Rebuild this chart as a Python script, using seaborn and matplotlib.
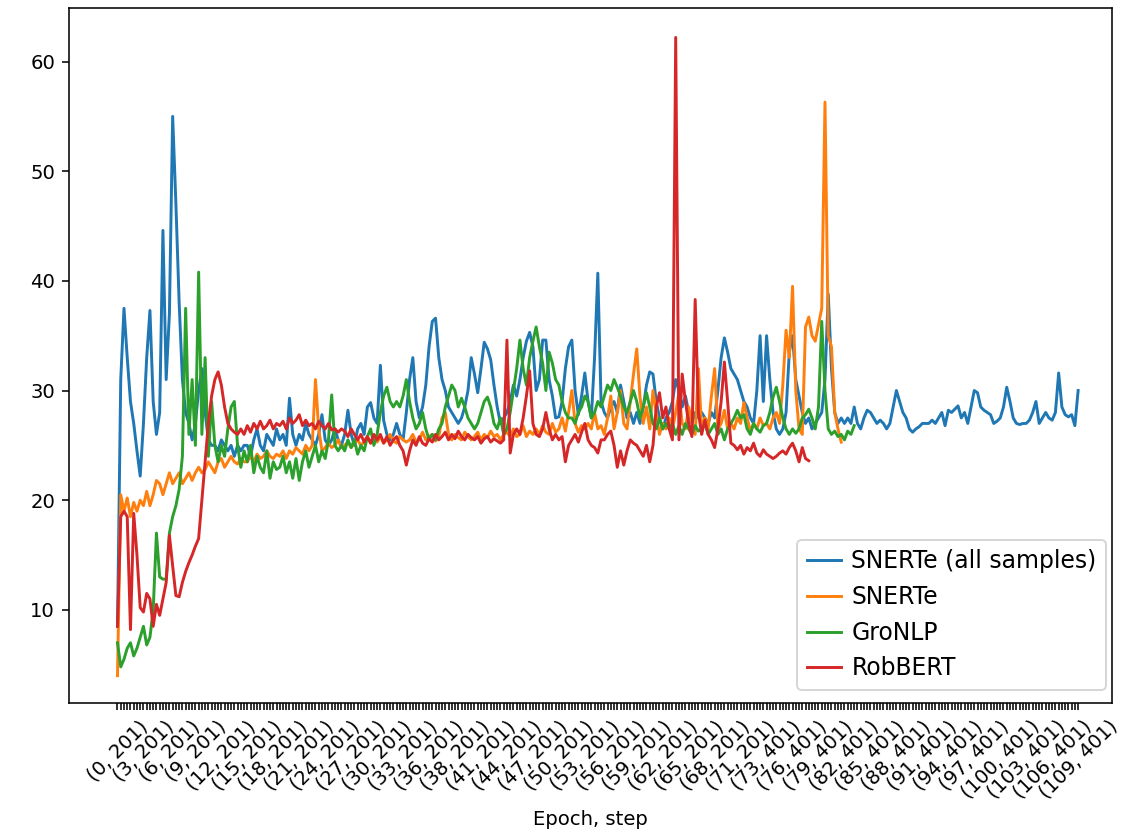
import pandas as pd
import matplotlib
matplotlib.use("Agg")
import matplotlib.pyplot as plt
import seaborn as sns

# every 8th logged (epoch, step) gets a visible label
tick_labels = ["(0, 201)", "(3, 201)", "(6, 201)", "(9, 201)", "(12, 201)", "(15, 201)",
               "(18, 201)", "(21, 201)", "(24, 201)", "(27, 201)", "(30, 201)", "(33, 201)",
               "(36, 201)", "(38, 201)", "(41, 201)", "(44, 201)", "(47, 201)", "(50, 201)",
               "(53, 201)", "(56, 201)", "(59, 201)", "(62, 201)", "(65, 201)", "(68, 201)",
               "(71, 201)", "(73, 401)", "(76, 401)", "(79, 401)", "(82, 401)", "(85, 401)",
               "(88, 401)", "(91, 401)", "(94, 401)", "(97, 401)", "(100, 401)", "(103, 401)",
               "(106, 401)", "(109, 401)"]
label_every = 8

snerte_all = [
    8.5, 31, 37.5, 33, 29, 27, 24.5, 22.2, 27, 33,
    37.3, 29, 26, 28, 44.6, 31, 37, 55, 47, 38,
    31, 28, 27, 25.5, 27, 30, 32, 28, 25.5, 25,
    25, 24.5, 25.5, 25, 24.5, 25, 24, 25, 24.5, 25,
    25, 24, 25.5, 26.5, 25, 24.5, 26, 25.5, 25, 26.5,
    25.5, 26, 25, 29.3, 26, 25, 26, 25.5, 27, 26,
    25.5, 25, 26, 27.8, 25.5, 25, 25.5, 26.5, 25.5, 25,
    26, 28.2, 26, 25, 26.5, 27, 26, 28.5, 28.9, 27.5,
    27, 32.3, 27.3, 26, 25.5, 26, 27, 26, 25.5, 28,
    31, 33, 29, 27.5, 28.5, 30.5, 34, 36.3, 36.6, 33,
    31, 30, 28.5, 28, 27.5, 27, 27.5, 28.5, 30, 33,
    31.5, 29.8, 32, 34.4, 33.8, 32.8, 30.5, 28.5, 27, 27.5,
    28, 29, 30.5, 29.5, 31, 33, 34.5, 35.3, 34, 30,
    31, 34.6, 34.6, 31, 29.5, 27.5, 27.6, 29, 32, 34,
    34.6, 30, 27.8, 29.5, 31.6, 29, 27.5, 33, 40.7, 29,
    28, 27.5, 28.5, 29, 28, 30.5, 29, 27.5, 28, 27,
    28, 27, 28.5, 30.5, 31.7, 31.5, 29, 27.5, 26.5, 27.5,
    28, 29, 31, 30, 28.5, 29.5, 28, 27, 28, 27.5,
    28, 27.5, 27, 28, 27.5, 30, 33, 34.8, 33.5, 32,
    31.5, 31, 30, 29, 28.5, 27.5, 27, 30, 35, 29,
    35, 31, 28, 26.5, 26, 26.5, 28, 33.5, 35, 31,
    29.5, 28, 27, 27.5, 26.5, 27, 27.5, 28, 31, 38.8,
    32, 28, 27, 27.5, 27, 27.5, 27, 28.5, 27, 26.5,
    27.5, 28.2, 28, 27.5, 27, 27.3, 27, 26.5, 27, 28.5,
    30, 29, 28, 27.5, 26.5, 26.2, 26.5, 26.7, 27, 27,
    27, 27.3, 27, 27.5, 28, 26.8, 28.2, 28, 28.3, 28.6,
    27.5, 28, 27, 28.5, 30, 29.8, 28.5, 28.2, 28, 27.8,
    27, 27.2, 27.5, 28.5, 30.3, 29, 27.5, 27, 26.9, 27,
    27, 27.3, 28, 29, 27, 27.5, 28, 27.5, 27.3, 28,
    31.6, 28.5, 27.8, 27.6, 27.8, 26.8, 30,
]

snerte = [
    4, 20.5, 19, 20.2, 18.5, 19.8, 19, 20, 19.5, 20.8,
    19.5, 20.5, 21.8, 21.5, 20.5, 21.5, 22.5, 21.5, 22, 22.5,
    21.5, 22, 22.5, 21.8, 22.5, 23, 22.5, 22.8, 23.5, 23,
    22.5, 23.5, 23.8, 23, 23.5, 24, 23.5, 23.3, 23.8, 23.5,
    23.5, 24, 23.5, 24.2, 23.8, 24, 24.5, 24, 23.8, 24.2,
    24, 24.5, 23.8, 24.5, 24.2, 24.8, 24.5, 24.2, 25, 24.5,
    25, 31, 26.5, 24.5, 24.8, 25.2, 24.8, 25, 25.5, 24.8,
    25, 25.3, 24.8, 25.2, 25.5, 25, 25.3, 25.8, 25.2, 25.5,
    25.3, 25.8, 25.2, 25.5, 26, 25.4, 25.2, 25.8, 25.5, 25.3,
    25.5, 26, 25.3, 25.5, 26.2, 25.5, 25.8, 26, 25.4, 25.8,
    27.5, 28, 26, 25.5, 26, 25.7, 25.5, 26.2, 25.8, 25.5,
    25.8, 26.2, 25.5, 26, 25.7, 26.3, 25.8, 26, 25.5, 26,
    26.2, 25.8, 26.5, 25.8, 26, 26.8, 25.8, 26.3, 26, 26.5,
    26, 26.8, 26.2, 26, 27, 26.2, 26.5, 27.5, 26.3, 28,
    30, 27, 26.2, 26.8, 26.5, 27, 26.5, 28, 26.5, 26.8,
    26, 27.5, 29.5, 26.5, 28, 30, 27, 26.5, 29, 31.5,
    33.8, 29.4, 27, 28.5, 26.5, 30, 28, 26, 27, 26.5,
    27.5, 26.5, 28, 29.8, 27, 26.5, 28.5, 27, 26, 32,
    26.5, 27.5, 26.5, 29.5, 32, 26.5, 27, 28.2, 26.5, 27,
    26.5, 27.5, 27, 28.9, 27.5, 26.3, 27, 26.5, 27.5, 26.8,
    27, 26.5, 27.5, 28, 27, 30.5, 35.5, 33, 39.5, 30,
    26.5, 26, 35.8, 36.7, 35, 34.5, 36, 37.5, 56.3, 35,
    34, 28, 26.5, 25.3,
]

gronlp = [
    7, 4.8, 5.5, 6.5, 7, 5.8, 6.5, 7.5, 8.5, 6.8,
    7.5, 10, 17, 13, 12.8, 12.8, 17, 18.5, 19.5, 21,
    24, 37.5, 26, 31, 25, 40.8, 26, 33, 24, 29,
    25, 23.5, 25, 24, 26.5, 28.5, 29, 25, 23, 24.5,
    23.5, 25, 22.5, 24, 23, 22.5, 24.5, 22, 23.5, 22.8,
    23, 24, 22.5, 23.5, 22, 23.8, 21.8, 23.5, 24.5, 23,
    24, 25, 23.5, 24.5, 23.8, 25.5, 29.6, 25, 24.5, 25,
    24.5, 25.5, 24.8, 25.5, 24.2, 25, 24.5, 25.8, 26.5, 25,
    26, 28, 29.5, 30.3, 29, 28.5, 29, 28.5, 29.5, 31,
    29, 27.5, 26.5, 27, 28, 26.5, 25.5, 26, 25.5, 26.5,
    27, 28.5, 29.5, 30.5, 30, 28.5, 29.3, 28.5, 27.5, 27,
    26.5, 27, 28, 29, 29.4, 28.5, 27, 26.5, 27.5, 26,
    26.5, 28, 30, 32, 34.6, 32, 30.5, 33, 34.5, 35.8,
    34, 32.5, 30, 33.5, 32.5, 31, 30.5, 29, 28, 27.5,
    27.5, 27, 28, 28.5, 29.5, 29, 27.5, 28, 29, 28.5,
    29.5, 30.5, 30, 31, 30.3, 29.5, 28.5, 28, 29, 30,
    29, 27.5, 28.5, 29.8, 28.5, 27, 26.5, 27.5, 26.5, 27,
    26.5, 27, 26, 26.8, 26, 27, 26.5, 26, 26.8, 26.3,
    26.5, 27, 26, 26.5, 27, 26, 26.5, 25.5, 26.5, 27,
    27.5, 28.2, 27.5, 27.8, 26.5, 26, 27, 26.5, 26.2, 26.8,
    27, 28, 29.4, 30.3, 29, 27.5, 26.5, 26, 26.5, 26.1,
    26.5, 27.5, 27.8, 28.3, 27.5, 26.5, 28.5, 36.3, 30, 26.5,
    26, 26.3, 25.8, 26, 25.5, 26.3, 26, 26.8,
]

robbert = [
    8.5, 18.5, 19, 18.5, 8.2, 18.8, 15, 10.2, 9.8, 11.5,
    11, 8.5, 10.5, 9.5, 11, 12.5, 16.8, 14, 11.3, 11.2,
    12.5, 13.5, 14.3, 15, 15.8, 16.5, 20, 23.5, 27, 29.5,
    31, 31.7, 30.5, 28.5, 27, 26.5, 26.2, 26, 26.5, 26,
    26.8, 26.2, 27, 26.5, 27.2, 26.5, 26.8, 27.3, 26.5, 27,
    26.8, 27.2, 26.5, 27.5, 27, 27.3, 27.8, 26.8, 27.3, 26.8,
    27, 26.5, 27.2, 26.8, 26.5, 27, 26.4, 26.5, 26.2, 26.5,
    26.3, 25.8, 26.5, 26, 25.5, 26, 25.3, 25.8, 25.2, 26,
    25.5, 26, 25.2, 25.8, 25, 25.5, 25.8, 25, 24.5, 23.2,
    24.5, 25.5, 25, 25.8, 25.2, 25, 25.6, 25.3, 26, 25.5,
    25.8, 26.2, 25.5, 26, 25.6, 26.3, 25.8, 25.5, 26, 25.7,
    25.5, 25.8, 25.2, 25.6, 25.8, 25.3, 25.6, 25.4, 25.2, 25.5,
    34.6, 24.3, 26, 26.5, 26, 27.5, 29.5, 31.8, 27, 26,
    25.8, 26.5, 28, 26.5, 25.5, 26, 25.5, 25.8, 23.5, 25,
    25.5, 26, 25.3, 26.2, 27, 25.5, 25, 24.8, 24.3, 25.5,
    25.5, 26, 26.3, 25, 23, 24.5, 23.2, 24.5, 25.5, 25.2,
    25, 24.5, 24, 25, 23.5, 25, 28.5, 29.8, 27.5, 28.5,
    26.5, 25.5, 62.2, 25.5, 31.5, 29, 27, 25.8, 38.3, 28,
    26, 27.3, 26, 25.5, 24.8, 26.5, 29, 32.6, 29, 25.2,
    25, 24.6, 25, 24.2, 24.8, 24.5, 25.2, 24.3, 24, 24.6,
    24.2, 24, 23.8, 24, 24.3, 24.5, 24.2, 24.8, 25.2, 24.5,
    23.5, 24.8, 23.8, 23.6,
]

series = {
    "SNERTe (all samples)": snerte_all,
    "SNERTe": snerte,
    "GroNLP": gronlp,
    "RobBERT": robbert,
}

rows = []
for name, vals in series.items():
    for i, v in enumerate(vals):
        rows.append({"step": i, "value": v, "model": name})
df = pd.DataFrame(rows)

fig, ax = plt.subplots(figsize=(8, 836 / 141), dpi=141)
fig.subplots_adjust(left=0.061, right=0.986, top=0.990, bottom=0.159)

sns.lineplot(data=df, x="step", y="value", hue="model", ax=ax,
             palette=["#1f77b4", "#ff7f0e", "#2ca02c", "#d62728"], linewidth=1.5)

n = len(snerte_all)
ax.set_xticks(range(n))
ax.set_xticklabels([tick_labels[i // label_every] if i % label_every == 0 else ""
                    for i in range(n)], rotation=45)
ax.set_xlim(-15, n - 1 + 10.5)
ax.set_ylim(1.5, 64.85)
ax.set_xlabel("Epoch, step")
ax.set_ylabel("")
sns.move_legend(ax, "lower right", bbox_to_anchor=(0.994, 0.019), borderaxespad=0,
                title=None, fontsize=12, handlelength=1.45, handletextpad=0.45)

fig.savefig("out.png", dpi=141)
